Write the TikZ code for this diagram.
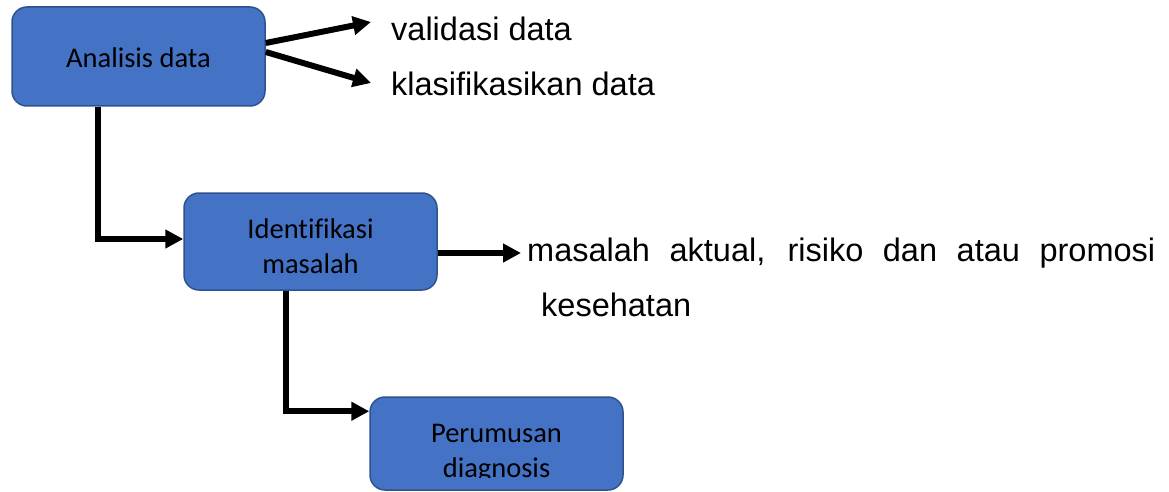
\documentclass[tikz,border=0pt]{standalone}
\usepackage{fontspec}
\setmainfont{Liberation Sans}
\newfontfamily\calib[Ligatures=CommonOff]{Carlito}
\usetikzlibrary{arrows.meta,calc}
\definecolor{boxfill}{HTML}{4472C4}
\definecolor{boxedge}{HTML}{2F528F}
\begin{document}
\begin{tikzpicture}[x=1pt,y=-1pt,
  box/.style={draw=boxedge, line width=1.5pt, fill=boxfill, rounded corners=15pt, minimum width=253pt, inner sep=0pt},
  intext/.style={font=\calib\fontsize{28.5}{35}\selectfont, text=black, inner sep=0pt, anchor=base},
  outtext/.style={font=\fontsize{32.5}{39}\selectfont, inner sep=0pt, anchor=base west},
  conn/.style={line width=6pt, -{Triangle[length=18pt,width=18pt]}},
]
\useasboundingbox (0,0) rectangle (1169,492);

% boxes
\node[box, minimum height=99pt] (ana) at (138.5,56.5) {};
\node[box, minimum height=97pt] (idt) at (310.5,241.5) {};
\node[box, minimum height=93pt] (per) at (496.5,443.5) {};

% box texts
\node[intext] (ana-t) at (138.5,68) {Analisis data};
\node[intext] (idt-t1) at (310.5,238) {Identifikasi};
\node[intext] (idt-t2) at (310.5,273) {masalah};
\node[intext] (per-t1) at (496.5,442) {Perumusan};
\begin{scope}
  \clip (per.north west) rectangle (623,477);
  \node[intext] (per-t2) at (496.5,477) {diagnosis};
\end{scope}

% outside texts
\node[outtext] (val) at (391,41) {validasi data};
\node[outtext] (kla) at (391,96) {klasifikasikan data};
\node[outtext] (mas) at (527,261) {\makebox[628pt][s]{masalah aktual, risiko dan atau promosi}};
\node[outtext] (kes) at (541,316) {kesehatan};

% arrow tips
\coordinate (vtip) at (371,22);
\coordinate (ktip) at (371,83);
\coordinate (mtip) at (521,253);

% connectors
\draw[conn] ($(ana.east)+(0,-13.5)$) -- (vtip);
\draw[conn] ($(ana.east)+(0,-4.5)$) -- (ktip);
\draw[conn] ($(ana.south west)+(87,0)$) |- ($(idt.west)+(0,-2.5)$);
\draw[conn] ($(idt.east)+(0,11.5)$) -- (mtip);
\draw[conn] ($(idt.south west)+(103,0)$) |- ($(per.north west)+(0,15)$);
\end{tikzpicture}
\end{document}
